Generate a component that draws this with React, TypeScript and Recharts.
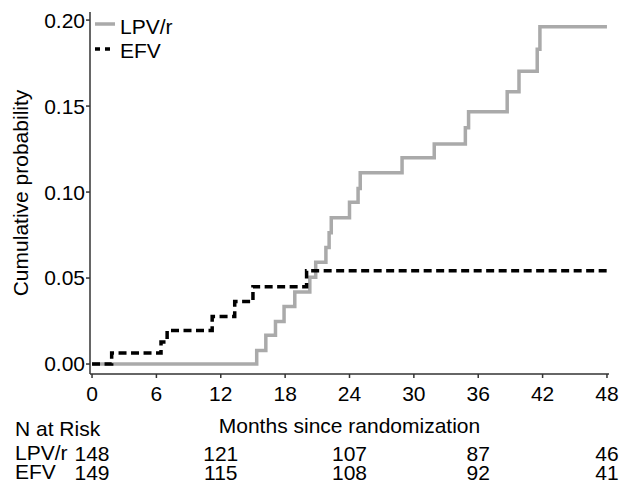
import React from 'react';
import { LineChart, Line, XAxis, YAxis, Legend } from 'recharts';

const lpvTimes = [0, 15.35, 16.2, 17.1, 17.9, 18.9, 20.3, 20.85, 21.8, 22.1, 22.3, 24.0, 24.8, 25.0, 28.9, 31.9, 34.8, 35.1, 38.7, 39.8, 41.5, 41.75, 48];
const lpvProb = [0, 0.0078, 0.0167, 0.0248, 0.0335, 0.0419, 0.0505, 0.0592, 0.0677, 0.0764, 0.0851, 0.094, 0.1021, 0.1112, 0.12, 0.128, 0.1374, 0.1467, 0.1583, 0.1703, 0.183, 0.1961, 0.1961];

const efvTimes = [0, 1.83, 6.43, 7.0, 11.2, 13.3, 15.0, 20.0, 48];
const efvProb = [0, 0.0064, 0.0128, 0.0195, 0.0276, 0.0363, 0.045, 0.0543, 0.0543];

const groups = ['LPV/r', 'EFV'];
const riskTimes = [0, 12, 24, 36, 48];
const lpvAtRisk = [148, 121, 107, 87, 46];
const efvAtRisk = [149, 115, 108, 92, 41];

const xTicks = [0, 6, 12, 18, 24, 30, 36, 42, 48];
const yTicks = [0, 0.05, 0.1, 0.15, 0.2];

const xLabel = 'Months since randomization';
const yLabel = 'Cumulative probability';
const riskTitle = 'N at Risk';

const lpvData = lpvTimes.map((t, i) => ({ t, p: lpvProb[i] }));
const efvData = efvTimes.map((t, i) => ({ t, p: efvProb[i] }));

const FONT = '"Liberation Sans", Arial, sans-serif';
const FS = 21;
const AXIS = '#333333';
const GRAY = '#aaaaaa';
const DASH = '8 4.5';

const series = [
  { name: groups[0], color: GRAY, dash: undefined as string | undefined },
  { name: groups[1], color: '#000000', dash: DASH },
];

const LegendContent = () => (
  <div style={{ fontFamily: FONT, fontSize: FS, color: '#000' }}>
    {series.map((s, i) => (
      <div key={s.name} style={{ display: 'flex', alignItems: 'center', height: 24, lineHeight: '24px' }}>
        <svg width={20} height={24} style={{ display: 'block' }}>
          <line x1={0} x2={20} y1={i === 0 ? 9 : 10} y2={i === 0 ? 9 : 10} stroke={s.color} strokeWidth={3.5}
            strokeDasharray={s.dash ? '5 5' : undefined} />
        </svg>
        <span style={{ marginLeft: 5 }}>{s.name}</span>
      </div>
    ))}
  </div>
);

export default function App() {
  const W = 621;
  const H = 483;
  return (
    <div style={{ position: 'absolute', left: 0, top: 0, width: W, height: H, background: '#fff' }}>
      <LineChart width={W} height={H} margin={{ top: 12, right: 12, bottom: 0, left: 0 }}>
        <XAxis
          xAxisId="a_main"
          type="number"
          dataKey="t"
          domain={[-0.19, 48.19]}
          allowDataOverflow
          ticks={xTicks}
          interval={0}
          height={72}
          tickSize={4}
          tickMargin={8}
          stroke={AXIS}
          strokeWidth={1.5}
          tick={{ fill: '#000', fontSize: FS, fontFamily: FONT }}
          label={{ value: xLabel, position: 'insideTop', offset: 44, fill: '#000', fontSize: FS, fontFamily: FONT }}
        />
        <XAxis
          xAxisId="b_lpv"
          type="number"
          dataKey="t"
          domain={[-0.19, 48.19]}
          allowDataOverflow
          ticks={riskTimes}
          interval={0}
          height={19}
          tickSize={0}
          tickMargin={0}
          axisLine={false}
          tickLine={false}
          tick={{ fill: '#000', fontSize: FS, fontFamily: FONT }}
          tickFormatter={(v: number) => String(lpvAtRisk[riskTimes.indexOf(v)])}
        />
        <XAxis
          xAxisId="c_efv"
          type="number"
          dataKey="t"
          domain={[-0.19, 48.19]}
          allowDataOverflow
          ticks={riskTimes}
          interval={0}
          height={18}
          tickSize={0}
          tickMargin={0}
          axisLine={false}
          tickLine={false}
          tick={{ fill: '#000', fontSize: FS, fontFamily: FONT }}
          tickFormatter={(v: number) => String(efvAtRisk[riskTimes.indexOf(v)])}
        />
        <YAxis
          type="number"
          domain={[-0.0058, 0.2047]}
          allowDataOverflow
          ticks={yTicks}
          interval={0}
          width={90}
          tickSize={4}
          tickMargin={1}
          stroke={AXIS}
          strokeWidth={1.5}
          tick={{ fill: '#000', fontSize: FS, fontFamily: FONT }}
          tickFormatter={(v: number) => v.toFixed(2)}
          label={{ value: yLabel, angle: -90, position: 'insideLeft', offset: 21, textAnchor: 'middle', fill: '#000', fontSize: FS, fontFamily: FONT }}
        />
        <Legend
          layout="vertical"
          align="center"
          verticalAlign="middle"
          wrapperStyle={{ top: 15, left: 95, width: 'auto' }}
          content={LegendContent}
        />
        <Line
          xAxisId="a_main"
          data={lpvData}
          dataKey="p"
          name={groups[0]}
          type="stepAfter"
          stroke={GRAY}
          strokeWidth={3.5}
          dot={false}
          activeDot={false}
          isAnimationActive={false}
        />
        <Line
          xAxisId="a_main"
          data={efvData}
          dataKey="p"
          name={groups[1]}
          type="stepAfter"
          stroke="#000"
          strokeWidth={3.5}
          strokeDasharray={DASH}
          dot={false}
          activeDot={false}
          isAnimationActive={false}
        />
      </LineChart>
      <svg width={W} height={H} style={{ position: 'absolute', left: 0, top: 0, pointerEvents: 'none' }}>
        <text x={15} y={429} dy="0.355em" fontSize={FS} fontFamily={FONT} fill="#000">{riskTitle}</text>
        <text x={15} y={453} dy="0.355em" fontSize={FS} fontFamily={FONT} fill="#000">{groups[0]}</text>
        <text x={15} y={472} dy="0.355em" fontSize={FS} fontFamily={FONT} fill="#000">{groups[1]}</text>
      </svg>
    </div>
  );
}
